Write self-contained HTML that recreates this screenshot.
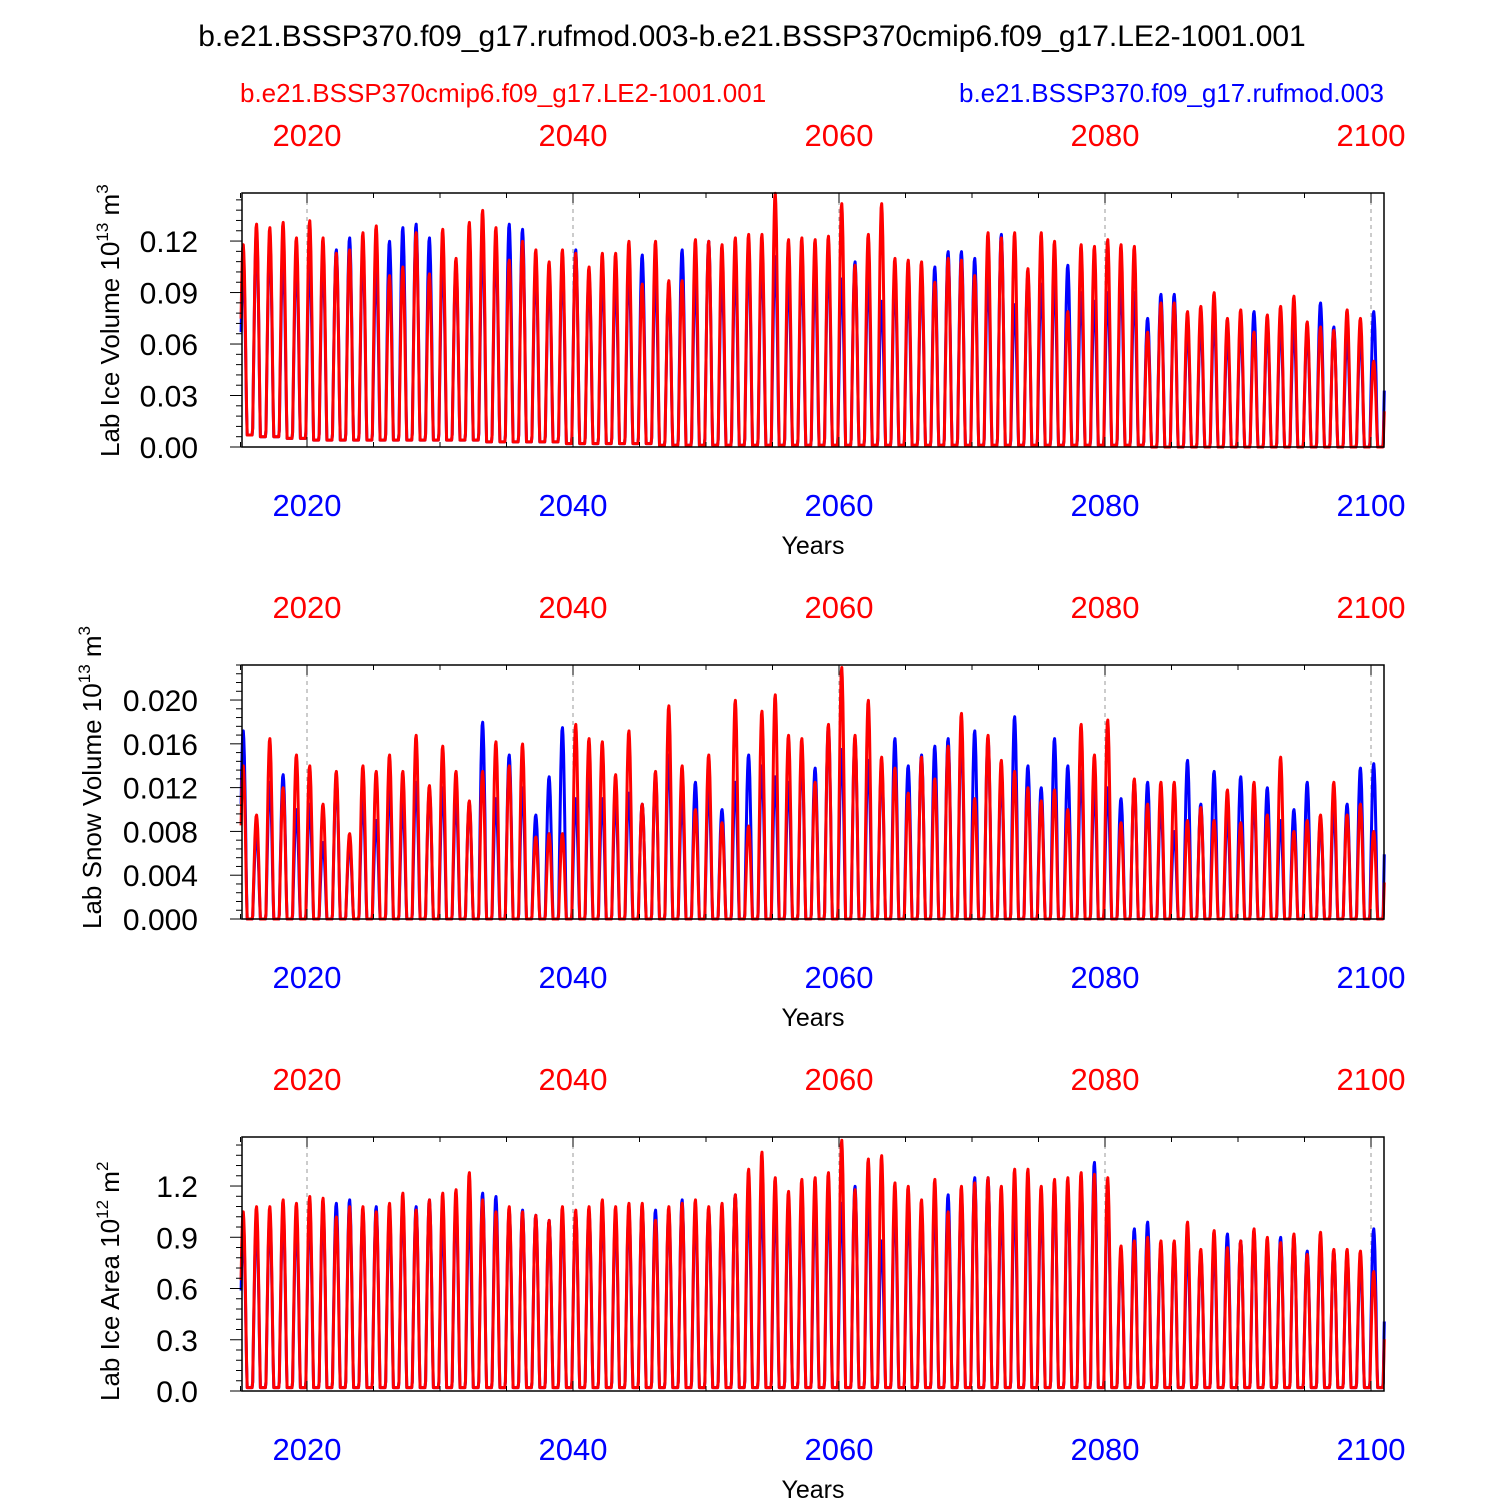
<!DOCTYPE html>
<html><head><meta charset="utf-8"><style>
body{margin:0;background:#fff;}
svg{font-family:"Liberation Sans",sans-serif;}
</style></head><body>
<svg id="c" width="1500" height="1500" xmlns="http://www.w3.org/2000/svg">
<text x="752" y="46" font-size="30" text-anchor="middle">b.e21.BSSP370.f09_g17.rufmod.003-b.e21.BSSP370cmip6.f09_g17.LE2-1001.001</text>
<text x="240" y="102" font-size="26" fill="#f00">b.e21.BSSP370cmip6.f09_g17.LE2-1001.001</text>
<text x="1384" y="102" font-size="26" fill="#00f" text-anchor="end">b.e21.BSSP370.f09_g17.rufmod.003</text>
</svg>
<script>
const startYear = 2015;
const iceVolRed = [0.118,0.130,0.128,0.131,0.122,0.132,0.122,0.113,0.115,0.125,0.129,0.100,0.105,0.125,0.101,0.127,0.110,0.131,0.138,0.128,0.109,0.120,0.115,0.108,0.115,0.113,0.105,0.113,0.113,0.120,0.095,0.120,0.097,0.097,0.121,0.120,0.118,0.122,0.124,0.124,0.148,0.121,0.122,0.121,0.123,0.142,0.106,0.124,0.142,0.110,0.109,0.108,0.096,0.110,0.109,0.100,0.125,0.122,0.125,0.104,0.125,0.120,0.079,0.118,0.117,0.121,0.118,0.117,0.067,0.084,0.084,0.079,0.082,0.090,0.075,0.080,0.067,0.077,0.082,0.088,0.073,0.070,0.068,0.080,0.075,0.050];
const iceVolBlue = [0.105,0.125,0.120,0.112,0.110,0.110,0.110,0.115,0.122,0.115,0.105,0.120,0.128,0.130,0.122,0.110,0.105,0.117,0.120,0.118,0.130,0.127,0.105,0.100,0.105,0.115,0.100,0.100,0.098,0.105,0.112,0.100,0.093,0.115,0.098,0.120,0.100,0.105,0.112,0.110,0.111,0.100,0.105,0.100,0.110,0.098,0.108,0.100,0.085,0.098,0.095,0.100,0.105,0.114,0.114,0.110,0.100,0.124,0.083,0.100,0.095,0.098,0.106,0.090,0.085,0.090,0.098,0.090,0.075,0.089,0.089,0.070,0.072,0.075,0.065,0.070,0.079,0.070,0.072,0.070,0.068,0.084,0.070,0.065,0.065,0.079];
const iceVolMin = [0.007,0.006,0.006,0.005,0.005,0.004,0.004,0.004,0.004,0.004,0.004,0.004,0.004,0.004,0.004,0.004,0.004,0.004,0.003,0.003,0.003,0.003,0.003,0.003,0.002,0.002,0.002,0.002,0.002,0.002,0.002,0.001,0.001,0.001,0.001,0.001,0.001,0.001,0.001,0.001,0.001,0.001,0.001,0.001,0.001,0.001,0.001,0.001,0.001,0.001,0.001,0.001,0.001,0.001,0.001,0.001,0.001,0.001,0.001,0.001,0.001,0.001,0.001,0.001,0.001,0.001,0.001,0.001,0.0,0.0,0.0,0.0,0.0,0.0,0.0,0.0,0.0,0.0,0.0,0.0,0.0,0.0,0.0,0.0,0.0,0.0];
const snowRed = [0.0140,0.0095,0.0165,0.0120,0.0150,0.0140,0.0105,0.0135,0.0078,0.0140,0.0135,0.0150,0.0135,0.0168,0.0122,0.0158,0.0135,0.0108,0.0135,0.0162,0.0140,0.0160,0.0075,0.0078,0.0078,0.0178,0.0165,0.0162,0.0132,0.0172,0.0105,0.0135,0.0195,0.0140,0.0100,0.0150,0.0088,0.0200,0.0085,0.0190,0.0205,0.0168,0.0165,0.0125,0.0178,0.0230,0.0168,0.0200,0.0148,0.0138,0.0115,0.0148,0.0128,0.0158,0.0188,0.0110,0.0168,0.0145,0.0135,0.0120,0.0108,0.0118,0.0100,0.0178,0.0150,0.0182,0.0088,0.0128,0.0105,0.0125,0.0125,0.0090,0.0102,0.0090,0.0118,0.0088,0.0125,0.0095,0.0148,0.0080,0.0090,0.0095,0.0125,0.0095,0.0105,0.0080];
const snowBlue = [0.0172,0.0080,0.0125,0.0132,0.0100,0.0105,0.0070,0.0128,0.0070,0.0110,0.0090,0.0120,0.0105,0.0125,0.0118,0.0120,0.0110,0.0105,0.0180,0.0110,0.0150,0.0120,0.0095,0.0130,0.0175,0.0110,0.0130,0.0110,0.0110,0.0115,0.0105,0.0130,0.0150,0.0110,0.0125,0.0120,0.0100,0.0125,0.0150,0.0140,0.0130,0.0125,0.0150,0.0138,0.0175,0.0155,0.0165,0.0145,0.0140,0.0165,0.0140,0.0150,0.0158,0.0165,0.0170,0.0172,0.0165,0.0130,0.0185,0.0140,0.0120,0.0165,0.0140,0.0135,0.0120,0.0120,0.0110,0.0125,0.0125,0.0105,0.0080,0.0145,0.0105,0.0135,0.0095,0.0130,0.0110,0.0120,0.0090,0.0100,0.0125,0.0090,0.0100,0.0105,0.0138,0.0142];
const areaRed = [1.05,1.08,1.08,1.12,1.10,1.14,1.13,1.02,1.08,1.08,1.05,1.10,1.16,1.06,1.12,1.16,1.18,1.28,1.12,1.05,1.08,1.05,1.03,1.00,1.08,1.06,1.08,1.12,1.08,1.10,1.10,1.00,1.08,1.10,1.12,1.08,1.10,1.15,1.30,1.40,1.25,1.17,1.24,1.25,1.28,1.47,1.18,1.36,1.38,1.22,1.20,1.12,1.24,1.05,1.20,1.22,1.25,1.20,1.30,1.30,1.20,1.24,1.25,1.28,1.27,1.25,0.85,0.88,0.90,0.88,0.88,0.99,0.83,0.94,0.84,0.88,0.95,0.90,0.87,0.92,0.80,0.93,0.83,0.83,0.82,0.70];
const areaBlue = [0.95,1.00,1.02,1.05,1.00,1.05,1.08,1.10,1.12,1.05,1.08,1.04,1.10,1.08,1.12,1.00,1.10,1.05,1.16,1.14,1.06,1.06,1.03,1.00,1.02,1.04,1.05,1.06,1.02,1.05,1.08,1.06,1.05,1.12,1.05,1.06,1.05,1.15,1.14,1.13,1.10,1.08,1.10,1.08,1.12,1.10,1.20,1.15,0.88,1.10,1.08,1.05,1.12,1.15,1.15,1.25,1.25,1.08,1.12,1.15,1.10,1.20,1.18,1.22,1.34,1.15,0.80,0.95,0.99,0.85,0.85,0.85,0.80,0.85,0.92,0.88,0.92,0.85,0.90,0.91,0.82,0.88,0.82,0.80,0.75,0.95];
const areaMin = 0.02;
const tickYears = [2020,2040,2060,2080,2100];
const vTicks1 = [0,0.03,0.06,0.09,0.12];
const vTicks2 = [0,0.004,0.008,0.012,0.016,0.020];
const vTicks3 = [0,0.3,0.6,0.9,1.2];

const NS="http://www.w3.org/2000/svg";
const svg=document.getElementById('c');
const X0=242,X1=1384;
function xScale(t){return 307+(t-2020)*13.3;}
function mk(tag,attrs,parent){const e=document.createElementNS(NS,tag);for(const k in attrs)e.setAttribute(k,attrs[k]);(parent||svg).appendChild(e);return e;}

function seasonal(ph){
  let d=ph-0.2; if(d>0.5)d-=1; if(d<-0.5)d+=1;
  let f=Math.cos(Math.PI*d*1.7); f=f>0?Math.pow(f,1.2):0; return f;
}
function curve(peaks,mins){
  const pts=[];const n=peaks.length;
  for(let i=0;i<=n*24;i++){
    const t=i/24, y=Math.floor(t), ph=t-y;
    const yi=Math.min(y,n-1);
    const pk=ph<0.7?peaks[yi]:peaks[Math.min(yi+1,n-1)];
    const mn=Array.isArray(mins)?mins[yi]:mins;
    pts.push([startYear+t, mn+(pk-mn)*seasonal(ph)]);
  }
  return pts;
}

function panel(idx,top,vmax,ticks,decimals,label,supExp,supUnit,red,blue,mins){
  const bot=top+254;
  const g=mk('g',{});
  
  
  const ys=v=>bot-v/vmax*254;
  tickYears.forEach(yr=>{const x=xScale(yr);const l=mk('line',{x1:x,x2:x,y1:top,y2:bot,stroke:'#999','stroke-dasharray':'4,4','stroke-width':1},g);
    });
  [[blue,'#00f','series-blue'],[red,'#f00','series-red']].forEach(([arr,col,nm])=>{
    const pts=curve(arr,mins).map(p=>[xScale(p[0]),ys(p[1])]).filter(p=>p[0]>=X0-1&&p[0]<=X1+1);
    const pl=mk('polyline',{points:pts.map(p=>p[0].toFixed(1)+','+p[1].toFixed(1)).join(' '),fill:'none',stroke:col,'stroke-width':3,'stroke-linejoin':'round'},g);
    
  });
  const fr=mk('rect',{x:X0,y:top,width:X1-X0,height:254,fill:'none',stroke:'#000','stroke-width':1.5},g);
  
  for(let yr=2015;yr<=2100;yr+=5){const x=xScale(yr);const L=yr%20===0?10:5;
    mk('line',{x1:x,x2:x,y1:top,y2:top+L,stroke:'#000'},g);mk('line',{x1:x,x2:x,y1:bot,y2:bot-L,stroke:'#000'},g);}
  tickYears.forEach(yr=>{
    const t=mk('text',{x:xScale(yr),y:top-47,'font-size':31,fill:'#f00','text-anchor':'middle'},g);t.textContent=yr;
    
    const b=mk('text',{x:xScale(yr),y:bot+69,'font-size':31,fill:'#00f','text-anchor':'middle'},g);b.textContent=yr;
    
  });
  const xt=mk('text',{x:813,y:bot+107,'font-size':25,'text-anchor':'middle'},g);xt.textContent='Years';
  
  const step=ticks[1]-ticks[0];
  for(let v=0;v<=vmax+1e-9;v+=step/5){const y=ys(v);const maj=Math.abs(v/step-Math.round(v/step))<1e-6;
    mk('line',{x1:X0,x2:X0-(maj?12:6),y1:y,y2:y,stroke:'#000'},g);}
  ticks.forEach(v=>{const t=mk('text',{x:X0-44,y:ys(v)+11,'font-size':30,'text-anchor':'end'},g);t.textContent=v.toFixed(decimals);
    });
  const yt=mk('text',{transform:`translate(${idx===2?101:119},${bot+10}) rotate(-90)`,'font-size':26},g);
  yt.innerHTML=label+' 10<tspan dy="-11" font-size="17">'+supExp+'</tspan><tspan dy="11"> m</tspan><tspan dy="-11" font-size="17">'+supUnit+'</tspan>';
  
}
panel(1,193,0.148,vTicks1,2,'Lab Ice Volume','13','3',iceVolRed,iceVolBlue,iceVolMin);
panel(2,665,0.0232,vTicks2,3,'Lab Snow Volume','13','3',snowRed,snowBlue,0);
panel(3,1137,1.487,vTicks3,1,'Lab Ice Area','12','2',areaRed,areaBlue,areaMin);
</script>
</body></html>
